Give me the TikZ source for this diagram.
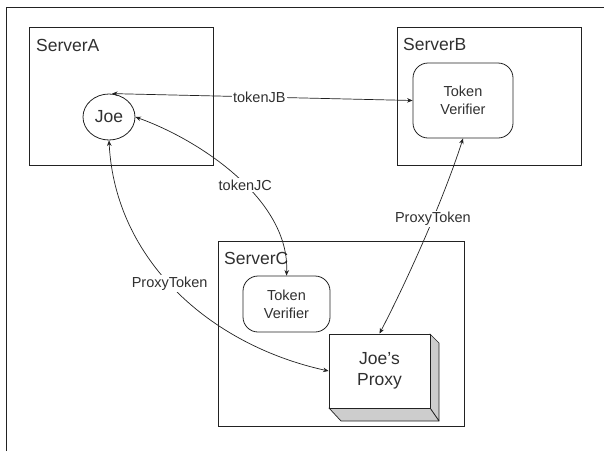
\documentclass[tikz,border=0pt]{standalone}
\usepackage{fontspec}
\setmainfont{Liberation Sans}
\usetikzlibrary{shapes.geometric,arrows.meta}
\definecolor{ink}{HTML}{222222}
\definecolor{txt}{HTML}{303030}
\definecolor{shade}{HTML}{CDCDCD}
\tikzset{
  box/.style={draw=ink, line width=0.8pt, anchor=north west, inner sep=0pt},
  bigtxt/.style={text=txt, font=\fontsize{17.5}{21}\selectfont, inner sep=0pt},
  smalltxt/.style={text=txt, font=\fontsize{14.5}{18}\selectfont, align=center},
  tvbox/.style={draw=ink, line width=0.8pt, rounded corners=15pt, smalltxt, inner sep=0pt},
  elbl/.style={fill=white, text=txt, font=\fontsize{14.5}{18}\selectfont, inner sep=1.5pt},
  conn/.style={draw=ink, line width=0.7pt, {Stealth[length=5.5pt,width=4.5pt]}-{Stealth[length=5.5pt,width=4.5pt]}}
}
\begin{document}
\begin{tikzpicture}[x=1pt,y=-1pt]
\useasboundingbox (0,0) rectangle (604,451);
% outer frame (left and top only)
\draw[ink, line width=0.8pt] (6,451) -- (6,7) -- (604,7);
% servers
\node[box, minimum width=184pt, minimum height=138pt] (sa) at (29,27) {};
\node[bigtxt, anchor=west] (salbl) at (36,45) {ServerA};
\node[box, minimum width=184pt, minimum height=138pt] (sb) at (397,27) {};
\node[bigtxt, anchor=west] (sblbl) at (403,44) {ServerB};
\node[box, minimum width=246pt, minimum height=185pt] (sc) at (218,241) {};
\node[bigtxt, anchor=west] (sclbl) at (224,258) {ServerC};
% Joe
\node[draw=ink, line width=0.8pt, ellipse, minimum width=52pt, minimum height=46pt, inner sep=0pt, bigtxt] (joe) at (109,117) {Joe};
% token verifiers
\node[tvbox, minimum width=100pt, minimum height=75pt] (tvb) at (463,100.5) {Token\\Verifier};
\node[tvbox, minimum width=87pt, minimum height=56pt] (tvc) at (286.5,304) {Token\\Verifier};
% Joe's proxy (3D box)
\filldraw[fill=shade, draw=ink, line width=0.7pt, line join=round] (430,334) -- (439,343) -- (439,421) -- (430,408) -- cycle;
\filldraw[fill=shade, draw=ink, line width=0.7pt, line join=round] (329,408) -- (430,408) -- (439,421) -- (341,421) -- cycle;
\node[draw=ink, fill=white, line width=0.8pt, minimum width=101pt, minimum height=74pt, inner sep=0pt, align=center, text=txt, font=\fontsize{17.5}{21}\selectfont] (proxy) at (379.5,371) {Joe’s\\Proxy};
% connectors
\draw[conn] ([xshift=3pt]joe.north) -- node[elbl, pos=0.49] {tokenJB} (tvb.west);
\draw[conn] (joe.east) .. controls (200,140) and (290,200) .. node[elbl, pos=0.55] {tokenJC} (tvc.north);
\draw[conn] (joe.south) .. controls (115,260) and (210,345) .. node[elbl, pos=0.47] {ProxyToken} (proxy.west);
\draw[conn] (tvb.south) .. controls (445,195) and (410,275) .. node[elbl, pos=0.42] {ProxyToken} (proxy.north);
\end{tikzpicture}
\end{document}
